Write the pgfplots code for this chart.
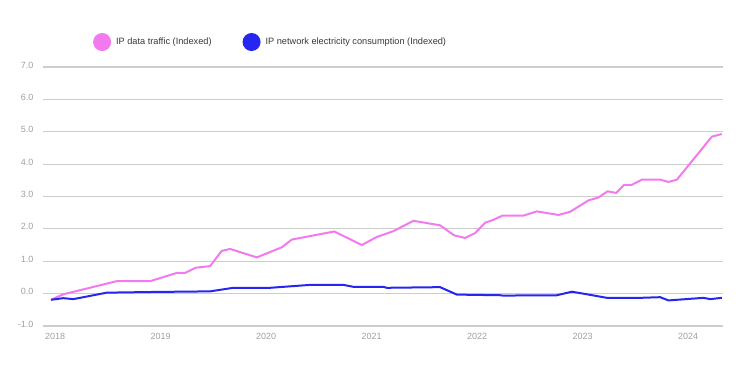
\documentclass[border=0pt]{standalone}
\usepackage{fontspec}
\setmainfont{Liberation Sans}
\usepackage{pgfplots}
\pgfplotsset{compat=1.18}
\definecolor{pinkc}{RGB}{242,122,238}
\definecolor{bluec}{RGB}{38,38,240}
\definecolor{gridc}{RGB}{205,205,205}
\definecolor{tickc}{RGB}{160,160,160}
\definecolor{legc}{RGB}{55,55,55}
\begin{document}
\begin{tikzpicture}
\useasboundingbox (0pt,0pt) rectangle (750pt,-381pt);
\begin{axis}[
  at={(43pt,-326pt)}, anchor=south west,
  scale only axis, width=680pt, height=259pt,
  xmin=2017.886, xmax=2024.33, ymin=-1, ymax=7,
  axis line style={draw=none}, tick style={draw=none},
  ymajorgrids, major grid style={gridc, line width=1.2pt},
  xtick={2018,2019,2020,2021,2022,2023,2024},
  xticklabels={2018,2019,2020,2021,2022,2023,2024},
  ytick={-1,0,1,2,3,4,5,6,7},
  yticklabel={\pgfmathprintnumber[fixed,fixed zerofill,precision=1]{\tick}},
  /pgf/number format/assume math mode=true,
  ticklabel style={font=\fontsize{9}{10}\selectfont, text=tickc},
  xticklabel style={yshift=-4pt},
  yticklabel style={xshift=-6pt, yshift=2pt},
  legend style={at={(0.069,1.0965)}, anchor=west, draw=none, fill=none,
    legend columns=2, font=\fontsize{9.2}{10}\selectfont\color{legc},
    /tikz/every even column/.append style={column sep=29pt}},
  legend cell align=left,
  legend image code/.code={\fill (0pt,0pt) circle (8pt); \path (11pt,0pt);},
]
\addplot[pinkc, line width=2pt] coordinates {
(2017.962,-0.19) (2018.079,-0.02) (2018.591,0.39) (2018.907,0.39)
(2019.154,0.64) (2019.232,0.64) (2019.334,0.80) (2019.469,0.85)
(2019.580,1.32) (2019.659,1.38) (2019.912,1.12) (2020.149,1.43)
(2020.244,1.67) (2020.647,1.92) (2020.907,1.50) (2021.049,1.75)
(2021.207,1.93) (2021.396,2.25) (2021.649,2.11) (2021.782,1.80)
(2021.886,1.72) (2021.981,1.87) (2022.076,2.19) (2022.155,2.28)
(2022.240,2.41) (2022.439,2.41) (2022.566,2.54) (2022.771,2.43)
(2022.882,2.53) (2023.055,2.88) (2023.150,2.97) (2023.235,3.16)
(2023.318,3.11) (2023.393,3.36) (2023.466,3.36) (2023.561,3.52)
(2023.735,3.52) (2023.813,3.45) (2023.893,3.52) (2024.225,4.85)
(2024.319,4.93)
};
\addlegendentry{IP data traffic (Indexed)}
\addplot[bluec, line width=2pt] coordinates {
(2017.962,-0.19) (2018.079,-0.14) (2018.173,-0.17) (2018.490,0.03)
(2018.900,0.05) (2019.469,0.07) (2019.690,0.18) (2020.038,0.18)
(2020.417,0.27) (2020.733,0.27) (2020.828,0.21) (2021.111,0.21)
(2021.143,0.18) (2021.649,0.20) (2021.808,-0.03) (2022.218,-0.05)
(2022.246,-0.06) (2022.755,-0.05) (2022.898,0.06) (2023.040,-0.02)
(2023.230,-0.13) (2023.545,-0.13) (2023.735,-0.11) (2023.813,-0.21)
(2024.145,-0.13) (2024.209,-0.17) (2024.319,-0.13)
};
\addlegendentry{IP network electricity consumption (Indexed)}
\end{axis}
\end{tikzpicture}
\end{document}
